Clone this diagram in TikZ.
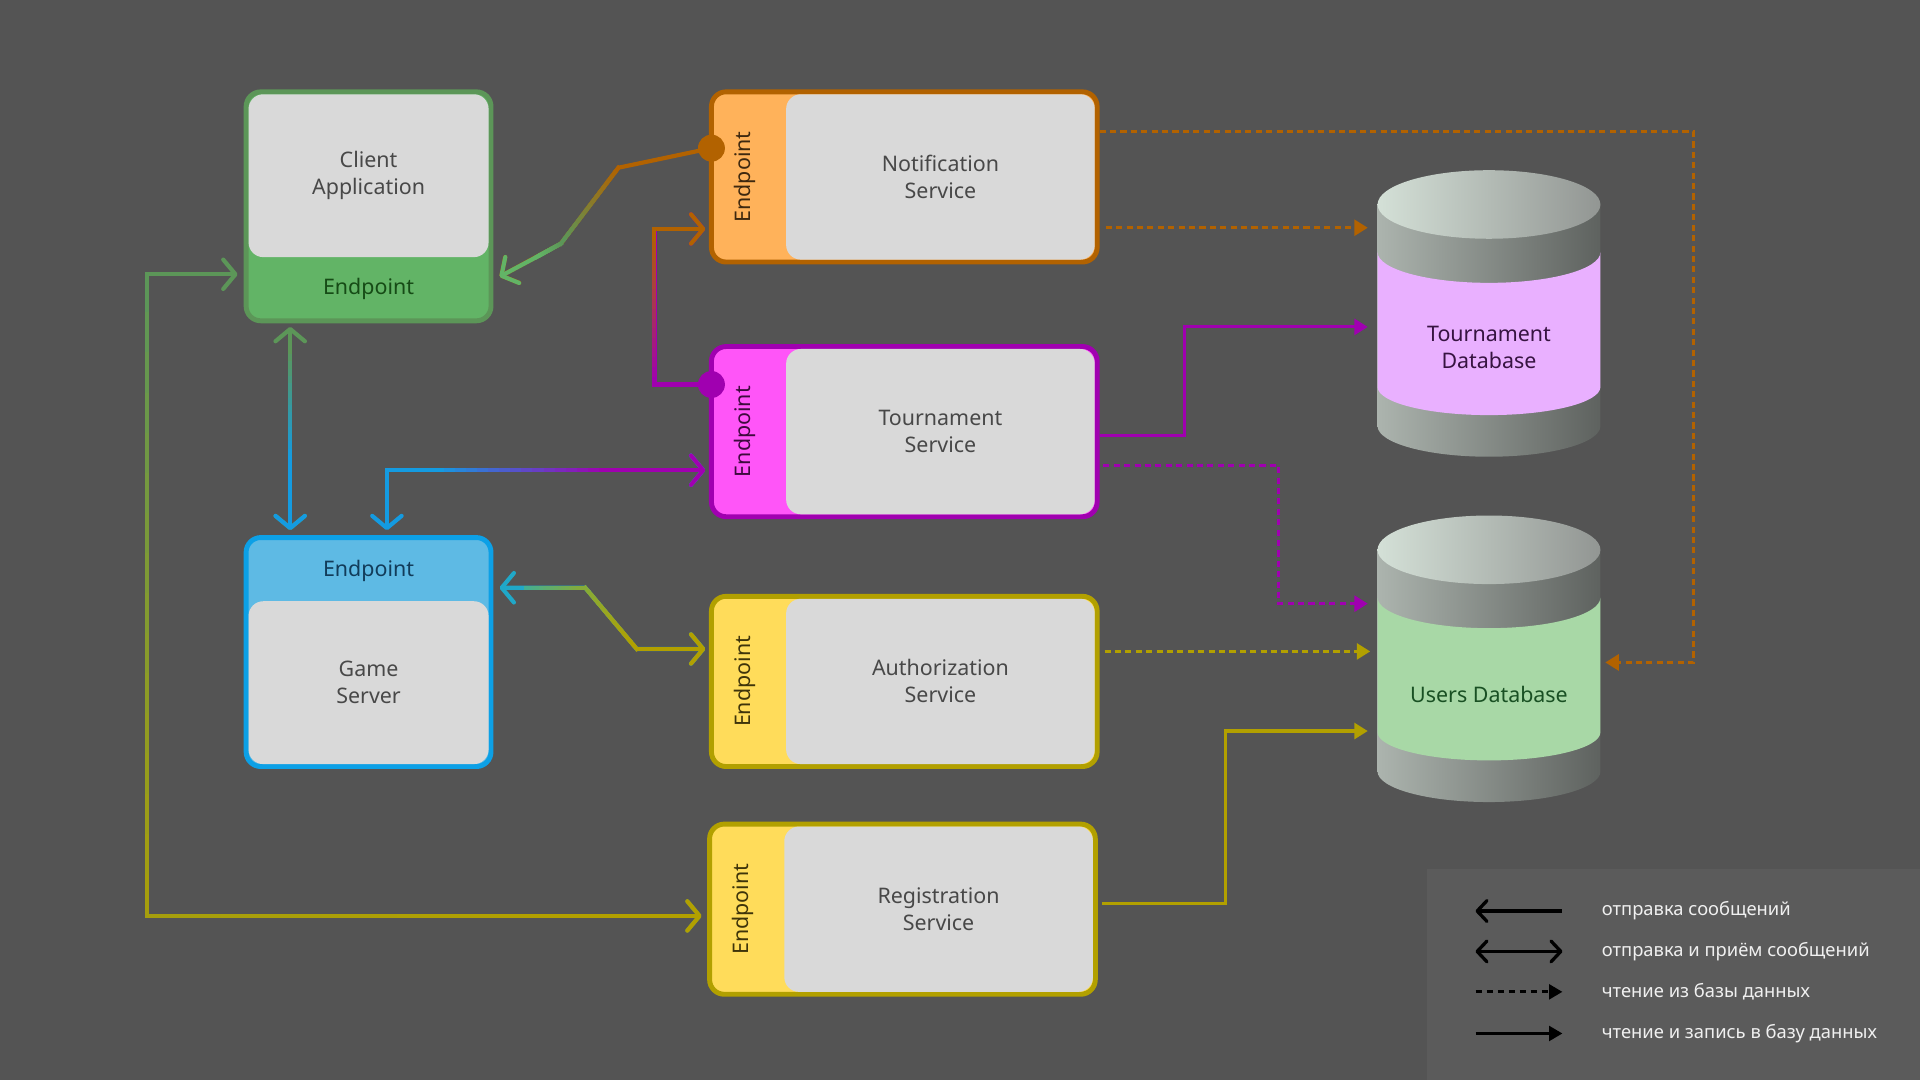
\documentclass[tikz,border=0pt]{standalone}
\usepackage{fontspec}
\setmainfont{Noto Sans}
\usetikzlibrary{arrows.meta,calc}
\definecolor{bggray}{RGB}{84,84,84}
\definecolor{legbg}{RGB}{91,91,91}
\definecolor{legfg}{RGB}{240,240,240}
\definecolor{coregray}{RGB}{217,217,217}
\definecolor{coretext}{RGB}{72,72,72}
\definecolor{clientline}{RGB}{92,150,88}
\definecolor{clientfill}{RGB}{98,180,102}
\definecolor{clienttext}{RGB}{22,75,22}
\definecolor{gsline}{RGB}{12,160,230}
\definecolor{gsfill}{RGB}{94,186,228}
\definecolor{gstext}{RGB}{18,60,90}
\definecolor{cblue}{RGB}{20,155,225}
\definecolor{cteal}{RGB}{32,168,200}
\definecolor{notifline}{RGB}{178,98,0}
\definecolor{notiffill}{RGB}{255,178,90}
\definecolor{notiftext}{RGB}{62,40,15}
\definecolor{tourline}{RGB}{160,0,176}
\definecolor{tourfill}{RGB}{255,85,248}
\definecolor{tourtext}{RGB}{62,10,62}
\definecolor{authline}{RGB}{178,160,0}
\definecolor{authfill}{RGB}{255,220,90}
\definecolor{authtext}{RGB}{62,52,10}
\definecolor{dbleft}{RGB}{172,180,174}
\definecolor{dbright}{RGB}{94,98,95}
\definecolor{dbtopl}{RGB}{212,224,215}
\definecolor{dbtopr}{RGB}{146,150,147}
\definecolor{pinkband}{RGB}{233,176,255}
\definecolor{greenband}{RGB}{168,216,166}
\definecolor{tdbtext}{RGB}{55,20,65}
\definecolor{udbtext}{RGB}{25,80,35}

\newcommand\boxfont{\fontsize{17.5}{22}\selectfont}
\newcommand\legfont{\fontsize{15}{18}\selectfont}

\tikzset{
  chev/.tip={Straight Barb[length=10pt,width=24pt,round]},
  lchev/.tip={Straight Barb[length=8pt,width=17pt,round]},
  tri/.tip={Triangle[length=11pt,width=13pt]},
  ltri/.tip={Triangle[length=11pt,width=12pt]},
  appbox/.style={rounded corners=12pt, line width=4pt, minimum width=200pt, minimum height=187pt, inner sep=0pt, outer sep=0pt},
  svcbox/.style={rounded corners=12pt, line width=4pt, minimum width=315pt, minimum height=139pt, inner sep=0pt, outer sep=0pt},
  core/.style={fill=coregray, rounded corners=12pt, inner sep=0pt, outer sep=0pt, text=coretext, font=\boxfont, align=center},
  svccore/.style={core, minimum width=252pt, minimum height=135pt, anchor=east},
  eptext/.style={font=\boxfont, inner sep=0pt},
  dot/.style={circle, inner sep=0pt, outer sep=0pt, minimum size=22pt},
  dbtext/.style={font=\boxfont, align=center, minimum width=182pt, inner sep=0pt, outer sep=0pt},
  conn/.style={line width=3.4pt},
  msg/.style={-chev},
  msgboth/.style={chev-chev},
  dbconn/.style={line width=2.5pt, -tri},
  rd/.style={dbconn, dash pattern=on 5pt off 3.5pt},
  legtext/.style={anchor=west, inner sep=0pt, font=\legfont, text=legfg},
  legline/.style={line width=2.7pt, black}
}

% straight piece of a connector, coloured from #3 to #4
\newcommand\gradpart[4]{%
  \foreach \k in {0,...,15}{
    \pgfmathtruncatemacro\mixA{100-\k*100/15}
    \draw[conn, line cap=rect, draw=#3!\mixA!#4]
      ($(#1)!\k/16!(#2)$) -- ($(#1)!\k/16+1/16!(#2)$);
  }}

\begin{document}
\begin{tikzpicture}[x=1pt, y=-1pt]
    % Canvas
    \fill[bggray] (0,0) rectangle (1568,882);
    \useasboundingbox (0,0) rectangle (1568,882);
    \fill[legbg] (1165,710) rectangle (1568,882);

    % Databases
    \foreach \dy/\band in {0/pinkband, 282/greenband} {
        \shade[left color=dbleft, right color=dbright] (1125,{167+\dy}) -- (1125,{348+\dy})
            arc[start angle=180, end angle=360, x radius=91pt, y radius=25pt] -- (1307,{167+\dy}) -- cycle;
        \fill[\band] (1125,{206+\dy}) -- (1125,{316+\dy})
            arc[start angle=180, end angle=360, x radius=91pt, y radius=23pt] -- (1307,{206+\dy})
            arc[start angle=0, end angle=-180, x radius=91pt, y radius=25pt] -- cycle;
        \shade[left color=dbtopl, right color=dbtopr] (1216,{167+\dy}) ellipse [x radius=91pt, y radius=28pt];
    }
    \node[dbtext, text=tdbtext] (tdb) at (1216,284) {Tournament\\Database};
    \node[dbtext, text=udbtext] (udb) at (1216,567) {Users Database};

    % Client application
    \node[appbox, draw=clientline, fill=clientfill] (client) at (301,168.5) {};
    \node[core, minimum width=196pt, minimum height=133pt, anchor=north] (clientcore) at ([yshift=-2pt]client.north) {Client\\Application};
    \node[eptext, text=clienttext] (clientep) at (301,236) {Endpoint};

    % Game server
    \node[appbox, draw=gsline, fill=gsfill] (gs) at (301,532.5) {};
    \node[core, minimum width=196pt, minimum height=133pt, anchor=south] (gscore) at ([yshift=2pt]gs.south) {Game\\Server};
    \node[eptext, text=gstext] (gsep) at (301,466) {Endpoint};

    % Services
    \node[svcbox, draw=notifline, fill=notiffill] (notif) at (738.5,144.5) {};
    \node[svccore] (notifcore) at ([xshift=-2pt]notif.east) {Notification\\Service};
    \node[eptext, rotate=90, text=notiftext] (notifep) at ($(notif.west)+(27,0)$) {Endpoint};

    \node[svcbox, draw=tourline, fill=tourfill] (tsvc) at (738.5,352.5) {};
    \node[svccore] (tsvccore) at ([xshift=-2pt]tsvc.east) {Tournament\\Service};
    \node[eptext, rotate=90, text=tourtext] (tsvcep) at ($(tsvc.west)+(27,0)$) {Endpoint};

    \node[svcbox, draw=authline, fill=authfill] (auth) at (738.5,556.5) {};
    \node[svccore] (authcore) at ([xshift=-2pt]auth.east) {Authorization\\Service};
    \node[eptext, rotate=90, text=authtext] (authep) at ($(auth.west)+(27,0)$) {Endpoint};

    \node[svcbox, draw=authline, fill=authfill] (reg) at (737,742.5) {};
    \node[svccore] (regcore) at ([xshift=-2pt]reg.east) {Registration\\Service};
    \node[eptext, rotate=90, text=authtext] (regep) at ($(reg.west)+(27,0)$) {Endpoint};

    % Outgoing ports
    \node[dot, fill=notifline] (notifdot) at ($(notif.west)+(0,-23.5)$) {};
    \node[dot, fill=tourline] (tourdot) at ($(tsvc.west)+(0,-38.5)$) {};

    % Notification -> client
    \draw[conn, notifline, msg] (notifdot.center) -- (505,137) -- (458,199) -- ($(client.east)+(7,57.5)$);
    \gradpart{505,137}{458,199}{notifline}{clientline}
    \gradpart{458,199}{438,210}{clientline}{clientfill}
    \draw[conn, clientfill, msg] (438,210) -- ($(client.east)+(7,57.5)$);

    % Tournament -> notification
    \draw[conn, tourline, msg] (tourdot.center) -- ++(-46,0) |- ($(notif.west)+(-5,42.5)$);
    \gradpart{534,314}{534,187}{tourline}{notifline}
    \draw[conn, notifline, msg] (534,187) -- ($(notif.west)+(-5,42.5)$);

    % Client <-> game server
    \draw[conn, clientline, msgboth] ($(client.south)+(-64,5)$) -- ($(gs.north)+(-64,-6)$);
    \gradpart{237,285}{237,380}{clientline}{cblue}
    \draw[conn, cblue, msg] (237,380) -- ($(gs.north)+(-64,-6)$);

    % Game server <-> tournament
    \draw[conn, cblue, msgboth] ($(gs.north)+(15,-6)$) |- ($(tsvc.west)+(-5,31.5)$);
    \gradpart{355,384}{500,384}{cblue}{tourline}
    \draw[conn, tourline, msg] (500,384) -- ($(tsvc.west)+(-5,31.5)$);

    % Game server <-> authorization
    \draw[conn, cteal, msgboth] ($(gs.east)+(7,-52.5)$) -- (478,480) -- (520,530) -- ($(auth.west)+(-5,-26.5)$);
    \gradpart{430,480}{478,480}{cteal}{authline!45!clientfill}
    \gradpart{478,480}{520,530}{authline!45!clientfill}{authline}
    \draw[conn, authline, msg] (520,530) -- ($(auth.west)+(-5,-26.5)$);

    % Client <-> registration
    \draw[conn, clientline, msgboth] ($(client.west)+(-7,55.5)$) -| (120,748) -- ($(reg.west)+(-6.5,5.5)$);
    \gradpart{120,224}{120,748}{clientline}{authline!85!clientline}
    \gradpart{120,748}{450,748}{authline!85!clientline}{authline}
    \draw[conn, authline, msg] (450,748) -- ($(reg.west)+(-6.5,5.5)$);

    % Database access
    \draw[rd, notifline] ($(notif.east)+(7,41.5)$) -- ($(tdb.west)+(-8,-98)$);
    \draw[rd, notifline] ($(notif.east)+(2,-37)$) -- ++(485,0) |- ($(udb.east)+(4,-26)$);
    \draw[dbconn, tourline] ($(tsvc.east)+(2,3.5)$) -- ++(69,0) |- ($(tdb.west)+(-8,-17)$);
    \draw[rd, tourline] ($(tsvc.east)+(5,27.5)$) -- ++(143,0) |- ($(udb.west)+(-8,-74)$);
    \draw[rd, authline] ($(auth.east)+(6,-24.5)$) -- ($(udb.west)+(-6,-35)$);
    \draw[dbconn, authline] ($(reg.east)+(5.5,-4.5)$) -- ++(101,0) |- ($(udb.west)+(-8,30)$);

    % Legend
    \node[legtext] (leg1) at (1308,744) {отправка сообщений};
    \node[legtext] (leg2) at (1308,777) {отправка и приём сообщений};
    \node[legtext] (leg3) at (1308,810) {чтение из базы данных};
    \node[legtext] (leg4) at (1308,844) {чтение и запись в базу данных};
    \draw[legline, lchev-] ($(leg1.west)+(-103,0)$) -- ++(71,0);
    \draw[legline, lchev-lchev] ($(leg2.west)+(-103,0)$) -- ++(71,0);
    \draw[legline, dash pattern=on 5pt off 4pt, -ltri] ($(leg3.west)+(-103,0)$) -- ++(71,0);
    \draw[legline, -ltri] ($(leg4.west)+(-103,0)$) -- ++(71,0);
\end{tikzpicture}
\end{document}
